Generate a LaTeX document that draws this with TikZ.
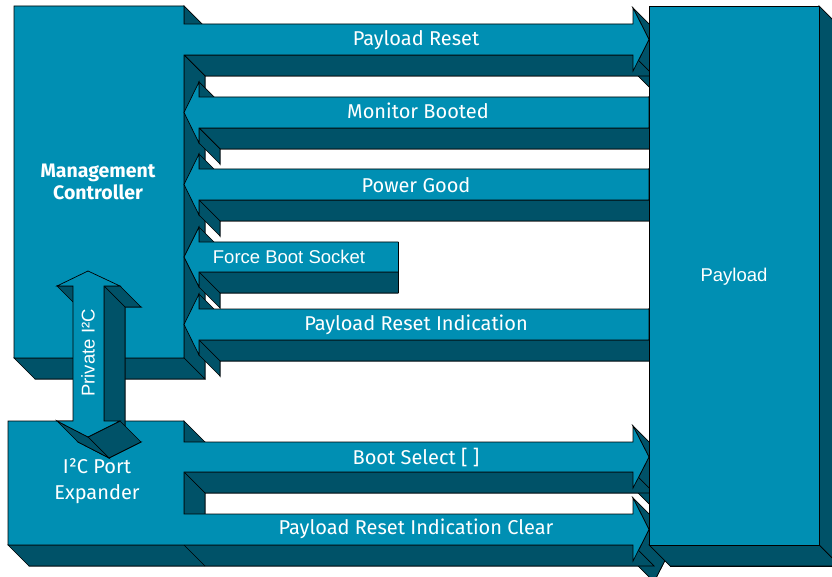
\documentclass[tikz,border=0pt]{standalone}
\usepackage{fontspec}
\setmainfont{Fira Sans}
\newfontfamily\arialfont{Liberation Sans}
\definecolor{tealface}{RGB}{0,143,179}
\definecolor{tealside}{RGB}{0,82,104}

% depth of the oblique extrusion (down-right)
\def\dd{21}

% \solidblock{x/y list, closed}: draws an extruded polygon.
% Points are screen coordinates (y grows downwards), listed clockwise,
% with the first point repeated at the end.
\newcommand\solidblock[1]{%
  \gdef\frontpath{}\gdef\backpath{}%
  \foreach \x/\y [count=\i] in {#1}{%
    \ifnum\i=1
      \xdef\frontpath{(\x,\y)}\xdef\backpath{(\x+\dd,\y+\dd)}%
    \else
      \xdef\frontpath{\frontpath -- (\x,\y)}%
      \xdef\backpath{\backpath -- (\x+\dd,\y+\dd)}%
    \fi}%
  \filldraw[side] \backpath -- cycle;
  \foreach \x/\y [count=\i, remember=\x as \px, remember=\y as \py] in {#1}{%
    \ifnum\i>1
      \pgfmathtruncatemacro\facing{((\y-\py)-(\x-\px))>0}%
      \ifnum\facing>0
        \filldraw[side] (\px,\py) -- (\x,\y) -- (\x+\dd,\y+\dd) -- (\px+\dd,\py+\dd) -- cycle;
      \fi
    \fi}%
  \filldraw[face] \frontpath -- cycle;
}

\begin{document}
\begin{tikzpicture}[x=1pt,y=-1pt,
  face/.style={fill=tealface,draw=black,line width=0.7pt},
  side/.style={fill=tealside,draw=black,line width=0.7pt},
  lbl/.style={text=white,font=\fontsize{20}{26}\selectfont,inner sep=0pt,align=center},
  blbl/.style={lbl,font=\fontsize{19.5}{22}\selectfont\bfseries},
  albl/.style={text=white,font=\arialfont\fontsize{18.5}{21}\selectfont,inner sep=0pt}]
\useasboundingbox (0,0) rectangle (832,577);

% Management Controller with the Payload Reset arrow
\solidblock{14/6, 184/6, 184/24, 633/24, 633/8, 649/39.5, 633/71, 633/55,
  184/55, 184/358, 14/358, 14/6}

% I2C Port Expander with the Boot Select and Reset Indication Clear arrows
\solidblock{8/421, 184/421, 184/442, 633/442, 633/426, 649/457, 633/488,
  633/472, 184/472, 184/514, 633/514, 633/498, 649/529.5, 633/561, 633/545,
  8/545, 8/421}
\draw[side] (184,545) -- ++(\dd,\dd);

% signals from the payload back to the controller
\solidblock{184/112.5, 199/82, 199/97, 649/97, 649/128, 199/128, 199/143, 184/112.5}
\solidblock{184/184.5, 199/154, 199/169, 649/169, 649/200, 199/200, 199/215, 184/184.5}
\begin{scope}
  \clip (0,0) rectangle (398.4,577);
  \solidblock{184/257, 199/227, 199/242, 420/242, 420/272, 199/272, 199/287, 184/257}
\end{scope}
\draw[side] (398,242) -- (398,293);
\solidblock{184/324.5, 199/294, 199/309, 649/309, 649/340, 199/340, 199/355, 184/324.5}

% private I2C double arrow
\solidblock{88/271, 120/286, 104/286, 104/421, 120/421, 88/437, 57/421,
  73/421, 73/286, 57/286, 88/271}

% Payload block
\solidblock{649/6, 819/6, 819/545, 649/545, 649/6}

% labels
\node[lbl] (pr)   at (416,40)  {Payload Reset};
\node[lbl] (mb)   at (418,111) {Monitor Booted};
\node[lbl] (pg)   at (416,185) {Power Good};
\node[albl] (fbs) at (289,257) {Force Boot Socket};
\node[lbl] (pri)  at (416,325) {Payload Reset Indication};
\node[lbl] (bs)   at (416,457) {Boot Select [ ]};
\node[lbl] (pric) at (416,529) {Payload Reset Indication Clear};
\node[blbl] (mc)  at (98,182)  {Management\\Controller};
\node[lbl] (pe)   at (97,481)  {I²C Port\\Expander};
\node[albl] (pl)  at (734,277) {Payload};
\node[albl,rotate=90] (i2c) at (88,353) {Private I²C};
\end{tikzpicture}
\end{document}
